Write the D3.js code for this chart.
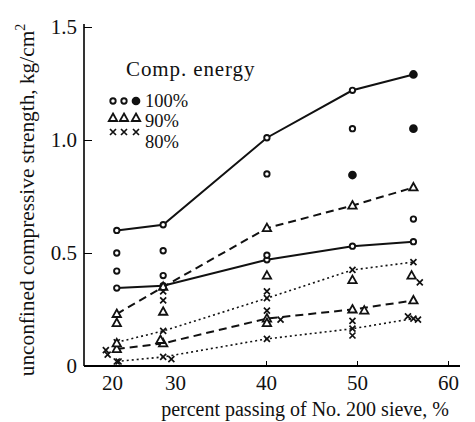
<!DOCTYPE html>
<html>
<head>
<meta charset="utf-8">
<script src="https://cdn.jsdelivr.net/npm/d3@7"></script>
<style>
  body { margin: 0; background: #fff; }
</style>
</head>
<body>
<div id="chart"></div>
<script>
// x positions of the five sample columns (percent passing No. 200 sieve)
const columnX = [23.6, 28.7, 40.1, 49.5, 56.2];

// connected series (kg/cm2)
const upper100 = [0.60, 0.625, 1.01, 1.22, 1.29];
const lower100 = [0.345, 0.355, 0.47, 0.53, 0.55];
const upper90 = [0.23, 0.35, 0.61, 0.71, 0.79];
const lower90 = [0.075, 0.10, 0.21, 0.25, 0.29];
const upper80 = [0.105, 0.155, 0.30, 0.425, 0.46];
const lower80 = [0.02, 0.04, 0.12, 0.165, 0.21];

// loose points that are not joined by a line
const extraCircleX = [23.6, 23.6, 28.7, 28.7, 40.1, 40.1, 49.5, 49.5, 56.2, 56.2];
const extraCircleY = [0.50, 0.42, 0.51, 0.40, 0.85, 0.49, 1.05, 0.845, 1.05, 0.65];
const extraCircleFilled = [false, false, false, false, false, false, false, true, true, false];

const extraTriangleX = [23.6, 23.6, 28.7, 28.4, 40.1, 40.1, 49.5, 50.8, 56.0];
const extraTriangleY = [0.19, 0.10, 0.24, 0.115, 0.40, 0.19, 0.38, 0.245, 0.40];

const extraCrossX = [22.4, 22.6, 23.8, 28.7, 28.7, 29.6, 40.1, 40.1, 41.6, 49.5, 49.5, 55.6, 56.7, 56.9];
const extraCrossY = [0.07, 0.05, 0.02, 0.33, 0.29, 0.03, 0.33, 0.245, 0.205, 0.20, 0.135, 0.22, 0.205, 0.37];

// axis ticks
const xTicks = [20, 30, 40, 50, 60];
const yTicks = [0, 0.5, 1.0, 1.5];

const width = 475;
const height = 422;
const serif = "'Liberation Serif', 'DejaVu Serif', serif";

const svg = d3.select("#chart")
  .append("svg")
  .attr("width", width)
  .attr("height", height)
  .attr("font-family", serif);

svg.append("rect").attr("width", width).attr("height", height).attr("fill", "#fff");

// scales
const x = d3.scaleLinear().domain([20, 60]).range([84, 448]);
const y = d3.scaleLinear().domain([0, 1.5]).range([366, 27]);

// x axis, ticks pointing up into the plot
const xAxis = svg.append("g")
  .attr("transform", `translate(0,${y(0)})`)
  .call(d3.axisBottom(x).tickValues(xTicks).tickSize(-5).tickPadding(9)
    .tickFormat(d3.format("d")).tickSizeOuter(0))
  .attr("font-family", serif)
  .attr("font-size", 21);
xAxis.select(".domain").attr("d", `M${x(20)},0H${x(60) + 12}`).attr("stroke-width", 2.2);
xAxis.selectAll("text").attr("fill", "#111");
// the "20" label sits under the first column in the original
xAxis.selectAll(".tick").filter(d => d === 20).select("text").attr("dx", 28);
xAxis.selectAll(".tick").filter(d => d === 20 || d === 30).select("line").remove();

// y axis, ticks pointing right
const yAxis = svg.append("g")
  .attr("transform", `translate(${x(20)},0)`)
  .call(d3.axisLeft(y).tickValues(yTicks).tickSize(-8).tickPadding(7)
    .tickFormat(d => d === 0 ? "0" : d3.format(".1f")(d)).tickSizeOuter(0))
  .attr("font-family", serif)
  .attr("font-size", 21);
yAxis.select(".domain").attr("d", `M0,${y(1.5) - 3}V${y(0)}`).attr("stroke-width", 1.6);
yAxis.selectAll("text").attr("fill", "#111");
yAxis.selectAll(".tick").filter(d => d === 0).select("line").remove();

// axis titles
svg.append("text")
  .attr("x", 305)
  .attr("y", 416)
  .attr("text-anchor", "middle")
  .attr("font-size", 20)
  .attr("fill", "#111")
  .text("percent passing of No. 200 sieve, %");

const yTitle = svg.append("text")
  .attr("transform", "translate(34,200) rotate(-90)")
  .attr("text-anchor", "middle")
  .attr("font-size", 21.3)
  .attr("fill", "#111");
yTitle.append("tspan").text("unconfined compressive strength, kg/cm");
yTitle.append("tspan").attr("dy", -9).attr("font-size", 14).text("2");

// marker helpers
const triPath = "M0,-4.5L4.2,3L-4.2,3Z";
const crossPath = "M-3,-3L3,3M3,-3L-3,3";

function drawCircle(g, cx, cy, filled) {
  g.append("circle")
    .attr("cx", cx).attr("cy", cy).attr("r", filled ? 3.4 : 2.7)
    .attr("fill", filled ? "#111" : "#fff")
    .attr("stroke", "#111").attr("stroke-width", 1.9);
}
function drawTriangle(g, cx, cy) {
  g.append("path").attr("d", triPath)
    .attr("transform", `translate(${cx},${cy})`)
    .attr("fill", "#fff").attr("stroke", "#111").attr("stroke-width", 1.8);
}
function drawCross(g, cx, cy) {
  g.append("path").attr("d", crossPath)
    .attr("transform", `translate(${cx},${cy})`)
    .attr("fill", "none").attr("stroke", "#111").attr("stroke-width", 1.7);
}

// connected series
const series = [
  { values: upper100, dash: null, width: 2, marker: "circle" },
  { values: lower100, dash: null, width: 2, marker: "circle" },
  { values: upper90, dash: "8,5", width: 2, marker: "triangle" },
  { values: lower90, dash: "8,5", width: 2, marker: "triangle" },
  { values: upper80, dash: "2,3", width: 1.6, marker: "cross" },
  { values: lower80, dash: "2,3", width: 1.6, marker: "cross" },
];

const line = d3.line().x(d => x(d[0])).y(d => y(d[1]));
const plot = svg.append("g");

series.forEach(s => {
  const pts = columnX.map((cx, i) => [cx, s.values[i]]);
  plot.append("path")
    .datum(pts)
    .attr("d", line)
    .attr("fill", "none")
    .attr("stroke", "#111")
    .attr("stroke-width", s.width)
    .attr("stroke-dasharray", s.dash);
});

series.forEach((s, si) => {
  columnX.forEach((cx, i) => {
    const px = x(cx), py = y(s.values[i]);
    if (s.marker === "circle") drawCircle(plot, px, py, si === 0 && i === 4);
    else if (s.marker === "triangle") drawTriangle(plot, px, py);
    else drawCross(plot, px, py);
  });
});

// loose points
extraCircleX.forEach((cx, i) => drawCircle(plot, x(cx), y(extraCircleY[i]), extraCircleFilled[i]));
extraTriangleX.forEach((cx, i) => drawTriangle(plot, x(cx), y(extraTriangleY[i])));
extraCrossX.forEach((cx, i) => drawCross(plot, x(cx), y(extraCrossY[i])));

// legend
const legend = svg.append("g");
legend.append("text")
  .attr("x", 126).attr("y", 76)
  .attr("font-size", 21)
  .attr("letter-spacing", 0.9)
  .attr("fill", "#111")
  .text("Comp. energy");

const legendRows = [
  { label: "100%", marker: "circle", y: 101, textY: 107 },
  { label: "90%", marker: "triangle", y: 118, textY: 127 },
  { label: "80%", marker: "cross", y: 132, textY: 148 },
];
const legendMarkerX = [113, 124, 136];

legendRows.forEach(r => {
  legendMarkerX.forEach((mx, i) => {
    if (r.marker === "circle") drawCircle(legend, mx, r.y, i === 2);
    else if (r.marker === "triangle") drawTriangle(legend, mx, r.y);
    else drawCross(legend, mx, r.y);
  });
  legend.append("text")
    .attr("x", 145).attr("y", r.textY)
    .attr("font-size", 18.5)
    .attr("fill", "#111")
    .text(r.label);
});
</script>
</body>
</html>
